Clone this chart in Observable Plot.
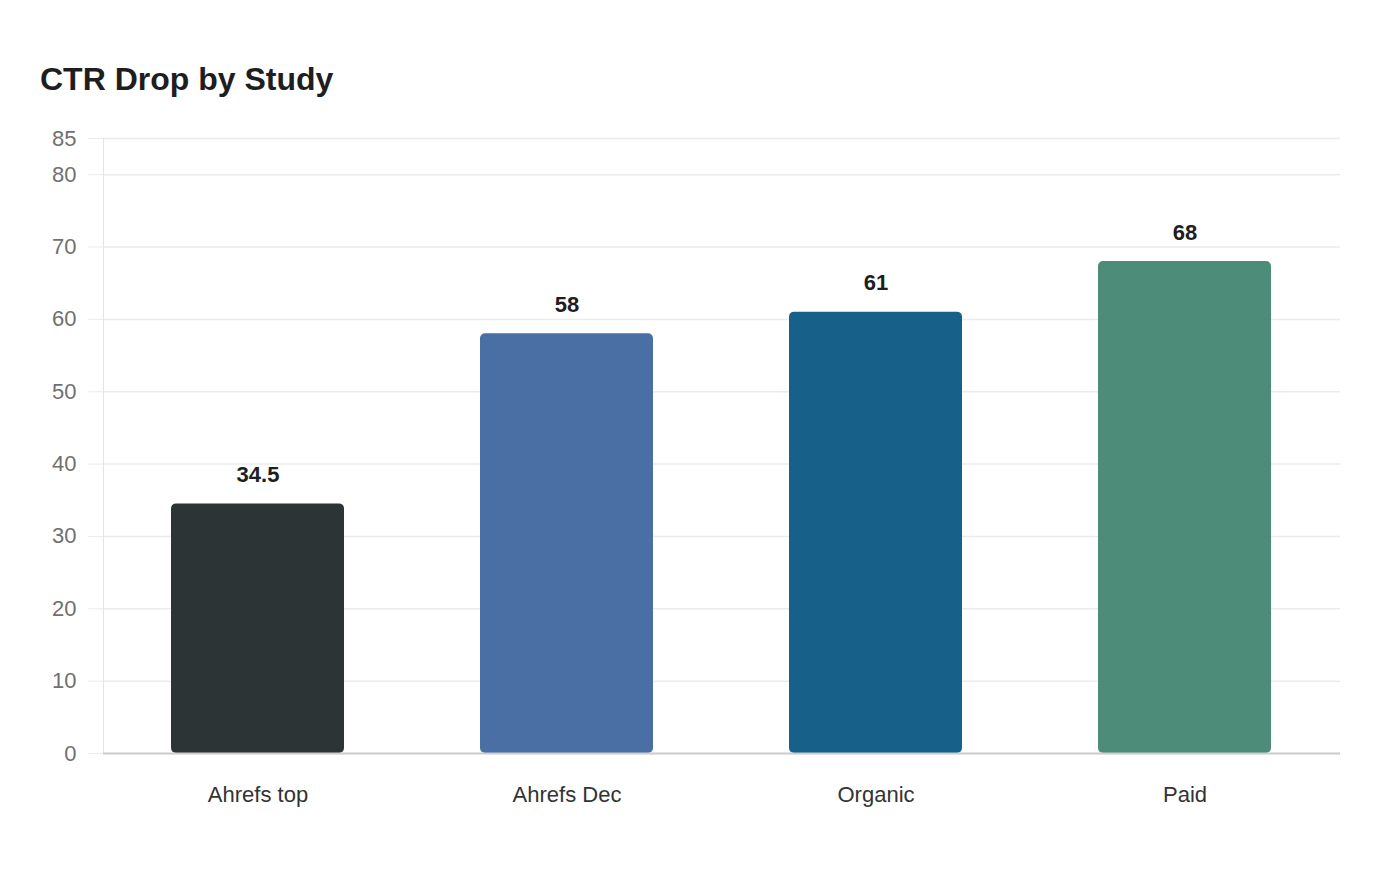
<!DOCTYPE html>
<html>
<head>
<meta charset="utf-8">
<script src="https://cdn.jsdelivr.net/npm/d3@7"></script>
<script src="https://cdn.jsdelivr.net/npm/@observablehq/plot@0.6"></script>
<style>
  html, body { margin: 0; padding: 0; background: #fff; }
  body { width: 1400px; height: 880px; position: relative; font-family: "Liberation Sans", Arial, sans-serif; }
  #title { position: absolute; left: 40px; top: 61px; font-size: 32px; font-weight: bold; color: #1e1e1e; line-height: 36px; z-index: 2; }
  #chart { position: absolute; left: 0; top: 0; z-index: 1; }
</style>
</head>
<body>
<div id="title">CTR Drop by Study</div>
<div id="chart"></div>
<script>
const categories = ["Ahrefs top", "Ahrefs Dec", "Organic", "Paid"];
const values = [34.5, 58, 61, 68];
const colors = ["#2d3436", "#4a6fa5", "#17608a", "#4e8c7a"];
const yTicks = [0, 10, 20, 30, 40, 50, 60, 70, 80, 85];

const data = categories.map((c, i) => ({category: c, value: values[i], color: colors[i]}));

const chart = Plot.plot({
  width: 1400,
  height: 880,
  marginTop: 138,
  marginBottom: 127,
  marginLeft: 103,
  marginRight: 60,
  style: {fontFamily: "Liberation Sans, Arial, sans-serif", background: "transparent"},
  x: {domain: categories, paddingInner: 0.44, paddingOuter: 0.22, label: null},
  y: {domain: [0, 85], label: null},
  marks: [
    Plot.gridY(yTicks, {stroke: "#ebebeb", strokeOpacity: 1, strokeWidth: 1.5}),
    Plot.axisY(yTicks, {tickSize: 15, tickPadding: 12, stroke: "#ebebeb", strokeOpacity: 1, fontSize: 22, fill: "#707070", label: null}),
    Plot.frame({anchor: "left", stroke: "#e3e3e3", strokeOpacity: 1}),
    Plot.barY(data, {x: "category", y: "value", fill: "color", rx: 5}),
    Plot.ruleY([0], {stroke: "#cccccc", strokeWidth: 2}),
    Plot.axisX({tickSize: 0, tickPadding: 33, fontSize: 22, fill: "#333", label: null}),
    Plot.text(data, {x: "category", y: "value", text: d => String(d.value), dy: -22, lineAnchor: "bottom", fontSize: 22, fontWeight: "bold", fill: "#1e1e1e"})
  ]
});
document.getElementById("chart").appendChild(chart);
</script>
</body>
</html>
